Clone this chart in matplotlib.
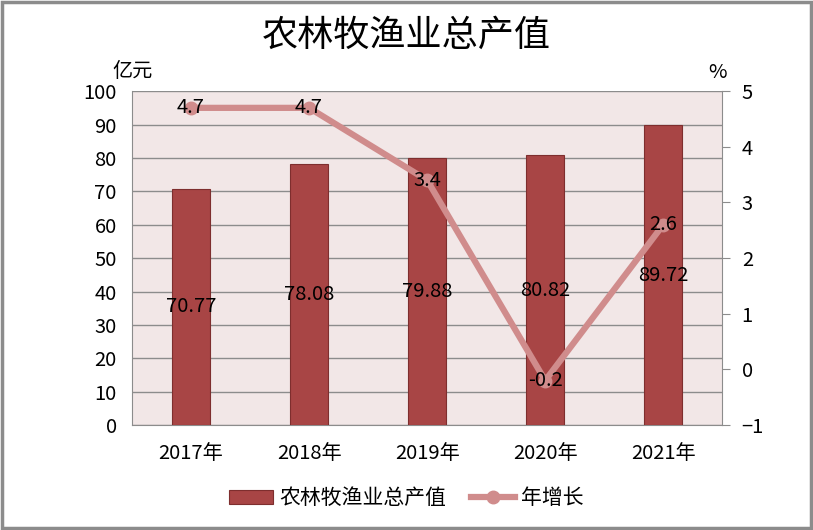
import matplotlib
matplotlib.use("Agg")
import matplotlib.pyplot as plt
from matplotlib.patches import Rectangle

plt.rcParams['font.family'] = ['Noto Sans CJK SC', 'DejaVu Sans']

categories = ["2017年", "2018年", "2019年", "2020年", "2021年"]
output_values = [70.77, 78.08, 79.88, 80.82, 89.72]
growth_values = [4.7, 4.7, 3.4, -0.2, 2.6]
left_ticks = [0, 10, 20, 30, 40, 50, 60, 70, 80, 90, 100]
right_ticks = [-1, 0, 1, 2, 3, 4, 5]

bar_color = "#A84545"
line_color = "#D08C8C"
bg_color = "#F2E7E7"
grid_color = "#8C8C8C"
fs = 14.5

fig = plt.figure(figsize=(8.13, 5.30), dpi=100)
fig.patch.set_facecolor("white")
fig.patches.append(Rectangle((0.002, 0.003), 0.995, 0.993, transform=fig.transFigure,
                             fill=False, edgecolor="#8C8C8C", linewidth=2.5))

ax = fig.add_axes([0.1624, 0.198, 0.726, 0.630])
ax.set_facecolor(bg_color)
x = list(range(len(categories)))
bars = ax.bar(x, output_values, width=0.32, color=bar_color, edgecolor="#7E2E2E",
              linewidth=0.8, zorder=3, label="农林牧渔业总产值")
ax.set_xlim(-0.5, len(categories) - 0.5)
ax.set_ylim(0, 100)
ax.set_yticks(left_ticks)
ax.yaxis.grid(True, color=grid_color, linewidth=1.0, zorder=0)
ax.set_axisbelow(True)
ax.set_xticks(x)
ax.set_xticklabels(categories, fontsize=fs)
ax.tick_params(axis='x', length=0, pad=13)
ax.tick_params(axis='y', length=0, labelsize=fs, pad=11)
for s in ["top", "right"]:
    ax.spines[s].set_visible(False)
ax.spines["left"].set_color(grid_color)
ax.spines["bottom"].set_color(grid_color)
for xi, v in zip(x, output_values):
    ax.text(xi, v / 2, f"{v:.2f}", ha="center", va="center", fontsize=fs, zorder=6)

ax2 = ax.twinx()
ax2.set_ylim(-1, 5)
ax2.set_yticks(right_ticks)
line, = ax2.plot(x, growth_values, color=line_color, linewidth=4.5, marker="o",
                 markersize=9, zorder=4, label="年增长")
ax2.tick_params(axis='y', length=6, color=grid_color, labelsize=fs, pad=8)
for s in ["top", "left", "bottom"]:
    ax2.spines[s].set_visible(False)
ax2.spines["right"].set_color(grid_color)
for xi, v in zip(x, growth_values):
    ax2.text(xi, v, f"{v:g}", ha="center", va="center", fontsize=fs, zorder=6)

fig.text(0.163, 0.866, "亿元", ha="center", va="center", fontsize=fs)
fig.text(0.883, 0.864, "%", ha="center", va="center", fontsize=fs)
fig.text(0.5, 0.932, "农林牧渔业总产值", ha="center", va="center", fontsize=26)

fig.legend([bars, line], ["农林牧渔业总产值", "年增长"], loc="center",
           bbox_to_anchor=(0.5, 0.06), ncol=2, frameon=False, fontsize=15,
           handlelength=2.1, columnspacing=1.2, handletextpad=0.3)

fig.savefig("out.png", dpi=100)
